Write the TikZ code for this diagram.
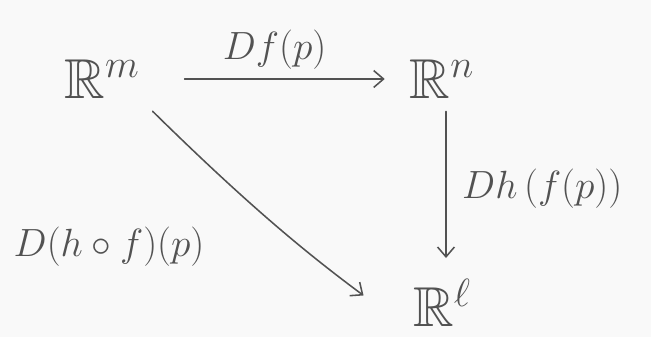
\documentclass[tikz,border=0pt]{standalone}
\usepackage{fix-cm}
\usepackage{amsfonts,amsmath,amssymb}
\usepackage{xcolor}
\usetikzlibrary{arrows.meta,positioning,calc}

\definecolor{pencil}{gray}{0.32}
\definecolor{paper}{gray}{0.975}

\begin{document}
\begin{tikzpicture}[>={Straight Barb[length=7pt,width=12pt]}, line cap=round,
  space/.style={text=pencil, font=\fontsize{40}{46}\selectfont, inner sep=2pt},
  maplabel/.style={text=pencil, font=\fontsize{28}{32}\selectfont, inner sep=1pt},
  mapline/.style={pencil, line width=1.1pt}]
\fill[paper] (0,0) rectangle (16.275,8.425);
\useasboundingbox (0,0) rectangle (16.275,8.425);
\node[space] (Rm) at (2.55,6.45) {$\mathbb{R}^m$};
\node[space] (Rn) at (11.05,6.45) {$\mathbb{R}^n$};
\node[space] (Rl) at (11.05,0.85) {$\mathbb{R}^\ell$};
\draw[mapline, ->, shorten <=1.05cm, shorten >=0.55cm] (Rm.east) -- (Rn.west)
  node[maplabel, midway, above=5pt] (Df) {$Df(p)$};
\draw[mapline, ->, shorten <=0.25cm, shorten >=0.45cm] ($(Rn.south)+(0.1,0)$) -- ($(Rl.north)+(0.1,0)$)
  node[maplabel, pos=0.5, right=10pt] (Dh) {$Dh\,(f(p))$};
\draw[mapline, ->, shorten <=0.35cm, shorten >=1.45cm] (Rm.south east) to[bend right=4] (Rl.south west);
\node[maplabel, anchor=west] (Dhf) at (0.3,2.25) {$D(h\circ f)(p)$};
\end{tikzpicture}
\end{document}
